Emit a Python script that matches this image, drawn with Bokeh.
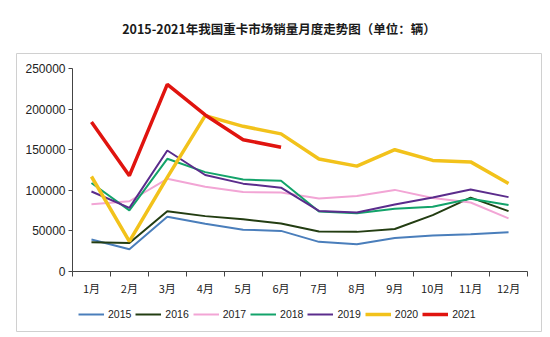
from bokeh.plotting import figure
from bokeh.models import FixedTicker, Legend, LegendItem, Range1d, BasicTickFormatter
from bokeh.embed import file_html
from bokeh.resources import INLINE

months = ["1月", "2月", "3月", "4月", "5月", "6月", "7月", "8月", "9月", "10月", "11月", "12月"]
y_ticks = [0, 50000, 100000, 150000, 200000, 250000]

s2015 = [39500, 27500, 67500, 58800, 51500, 50000, 36500, 33500, 41300, 44300, 45800, 48300]
s2016 = [36000, 35000, 74300, 68200, 64300, 59000, 49200, 48800, 52300, 69500, 91000, 74300]
s2017 = [82700, 86500, 114200, 104500, 97800, 97200, 89800, 93000, 100500, 90500, 85000, 65500]
s2018 = [109000, 75300, 138800, 122400, 113200, 111800, 73800, 71600, 77300, 79700, 89500, 82000]
s2019 = [98500, 78300, 149000, 118800, 108200, 103200, 74600, 72600, 82600, 91200, 101000, 91600]
s2020 = [117000, 37000, 116000, 192000, 178800, 169500, 138500, 129800, 150000, 136800, 135000, 108500]
s2021 = [184000, 118000, 230500, 192800, 162300, 153000]

series = [
    ("2015", s2015, "#4a7ebb", 2),
    ("2016", s2016, "#233d12", 2),
    ("2017", s2017, "#f2a5d5", 2),
    ("2018", s2018, "#13a36a", 2),
    ("2019", s2019, "#5b2c8c", 2),
    ("2020", s2020, "#f2c21b", 3.5),
    ("2021", s2021, "#e0140f", 3.5),
]

n = len(months)
xs = [i + 0.5 for i in range(n)]

# frame spans the light grey box; axes are pinned at x=0 / y=0 inside it
px_per_month = 455 / n
x_start = -56 / px_per_month
x_end = n + 14 / px_per_month
val_per_px = 250000 / 203
y_start = -60 * val_per_px
y_end = 250000 + 15 * val_per_px

p = figure(width=550, height=337, toolbar_location=None, output_backend="svg",
           x_range=Range1d(x_start, x_end), y_range=Range1d(y_start, y_end),
           title="2015-2021年我国重卡市场销量月度走势图（单位：辆）")
p.min_border_left = 16
p.min_border_right = 9
p.min_border_top = 53
p.min_border_bottom = 6
p.outline_line_color = "#d0d0d0"
p.outline_line_width = 1
p.grid.visible = False

p.title.align = "center"
p.title.text_font = "Noto Sans CJK SC"
p.title.text_font_size = "12.5px"
p.title.text_font_style = "bold"
p.title.text_color = "#1a1a1a"
p.title.standoff = 32

items = []
for name, vals, color, w in series:
    r = p.line(xs[:len(vals)], vals, line_color=color, line_width=w)
    items.append(LegendItem(label=name, renderers=[r]))

p.xaxis.fixed_location = 0
p.xaxis.bounds = (0, n)
p.xaxis.ticker = FixedTicker(ticks=xs, minor_ticks=list(range(n + 1)))
p.xaxis.major_label_overrides = {x: m for x, m in zip(xs, months)}
p.xaxis.major_tick_line_color = None
p.xaxis.major_tick_out = 5
p.xaxis.minor_tick_out = 5
p.xaxis.minor_tick_in = 0
p.xaxis.minor_tick_line_color = "#444444"
p.xaxis.axis_line_color = "#444444"
p.xaxis.major_label_text_font = "Noto Sans CJK SC"
p.xaxis.major_label_text_font_size = "11px"
p.xaxis.major_label_text_color = "#222222"
p.xaxis.major_label_standoff = 3

p.yaxis.fixed_location = 0
p.yaxis.bounds = (0, 250000)
p.yaxis.ticker = FixedTicker(ticks=y_ticks)
p.yaxis.formatter = BasicTickFormatter(use_scientific=False)
p.yaxis.minor_tick_line_color = None
p.yaxis.major_tick_out = 4
p.yaxis.major_tick_in = 0
p.yaxis.major_tick_line_color = "#444444"
p.yaxis.axis_line_color = "#444444"
p.yaxis.major_label_text_font = "Liberation Sans"
p.yaxis.major_label_text_font_size = "12px"
p.yaxis.major_label_text_color = "#222222"
p.yaxis.major_label_standoff = 3

legend = Legend(items=items, orientation="horizontal", location=(62, 10),
                glyph_width=26, glyph_height=14, label_height=14,
                label_standoff=4, spacing=4,
                padding=0, margin=0, border_line_color=None,
                background_fill_alpha=0,
                label_text_font="Liberation Sans", label_text_font_size="10.5px",
                label_text_color="#222222")
p.add_layout(legend)

open("out.html", "w").write(file_html(p, INLINE))
